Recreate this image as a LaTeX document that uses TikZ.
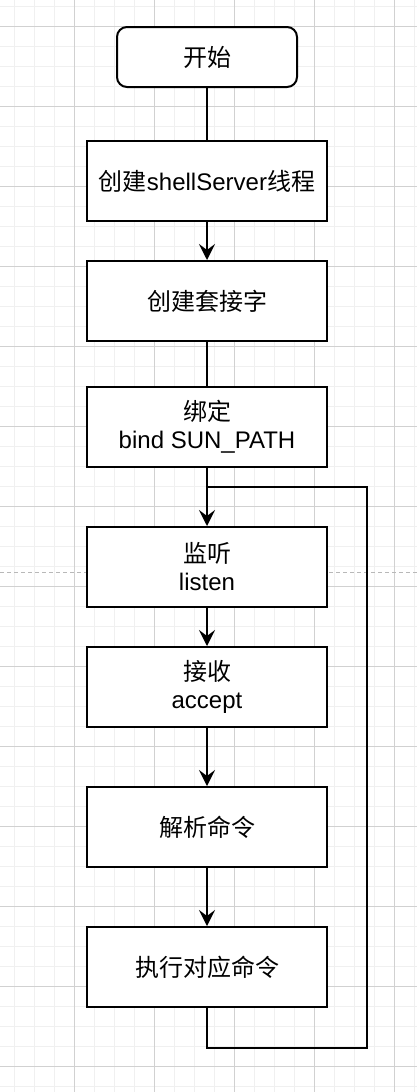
\documentclass[tikz,border=0pt]{standalone}
\usepackage{fontspec}
\setmainfont{Liberation Sans}
\newfontfamily\cjk{Noto Sans CJK SC}
\usetikzlibrary{arrows.meta}

\tikzset{
    minorline/.style={line width=1pt, black!6},
    majorline/.style={line width=1pt, black!18},
    proc/.style={draw, line width=2pt, fill=white, minimum width=240pt, minimum height=80pt,
        inner sep=0pt, align=center, font=\fontsize{24}{28}\selectfont},
    term/.style={proc, rounded corners=10pt, minimum width=180pt, minimum height=60pt},
    link/.style={line width=2pt, black},
    arr/.style={link, -{Stealth[length=16pt, width=16pt, inset=6pt]}},
}

\begin{document}
\begin{tikzpicture}[x=1pt, y=-1pt]
        % background and grid
        \fill[white] (0,0) rectangle (417,1092);
        \useasboundingbox (0,0) rectangle (417,1092);
        \foreach \x in {14,34,...,414} {
            \draw[minorline] (\x,0) -- (\x,1092);
        }
        \foreach \y in {6,26,...,1086} {
            \draw[minorline] (0,\y) -- (417,\y);
        }
        \foreach \x in {74,154,...,394} {
            \draw[majorline] (\x,0) -- (\x,1092);
        }
        \foreach \y in {26,106,...,1066} {
            \draw[majorline] (0,\y) -- (417,\y);
        }
        % page break
        \draw[line width=1pt, black!28, dash pattern=on 4pt off 3pt] (0,572.5) -- (417,572.5);

        % node
        \node[term] (start) at (207,57) {{\cjk 开始}};
        \node[proc] (thread) at (207,181) {{\cjk 创建}shellServer{\cjk 线程}};
        \node[proc] (sock) at (207,301) {{\cjk 创建套接字}};
        \node[proc] (bind) at (207,427) {{\cjk 绑定}\\bind SUN\_PATH};
        \node[proc] (listen) at (207,567) {{\cjk 监听}\\listen};
        \node[proc] (accept) at (207,687) {{\cjk 接收}\\accept};
        \node[proc] (parse) at (207,827) {{\cjk 解析命令}};
        \node[proc] (exec) at (207,967) {{\cjk 执行对应命令}};
        \coordinate (back) at (207,487);

        %% connection
        \draw[link] (start) -- (thread);
        \draw[arr] (thread) -- (sock);
        \draw[link] (sock) -- (bind);
        \draw[arr] (bind) -- (listen);
        \draw[arr] (listen) -- (accept);
        \draw[arr] (accept) -- (parse);
        \draw[arr] (parse) -- (exec);
        % loop back
        \draw[link] (exec.south) -- ++(0,40) -| ([xshift=160pt]back) -- (back);
    \end{tikzpicture}
\end{document}
